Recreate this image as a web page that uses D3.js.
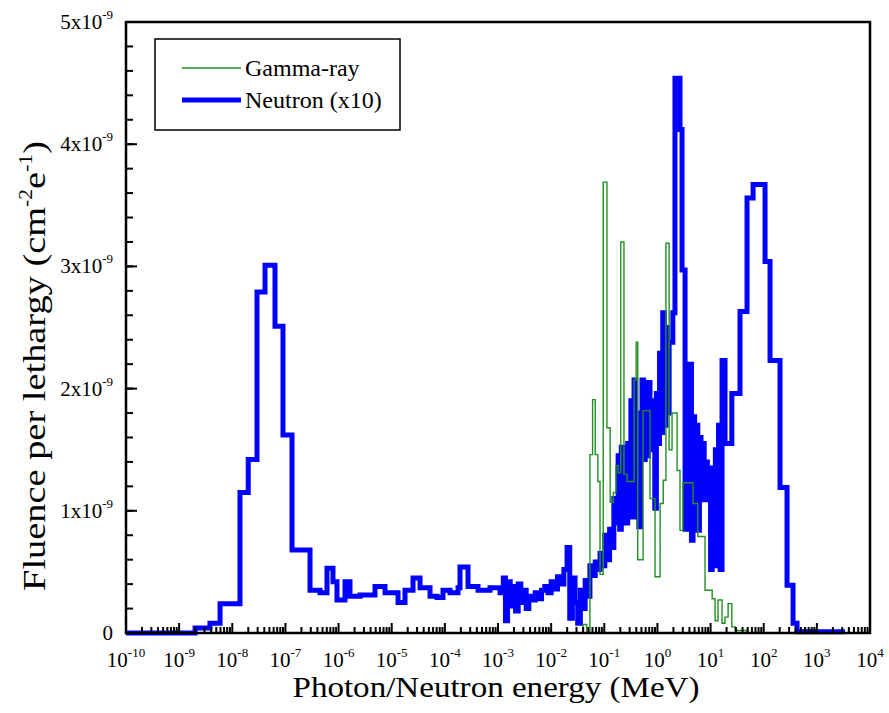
<!DOCTYPE html>
<html>
<head>
<meta charset="utf-8">
<title>Fluence per lethargy</title>
<script src="https://d3js.org/d3.v7.min.js"></script>
<style>
  body { margin: 0; background: #fff; }
  text { font-family: "Liberation Serif", "Times New Roman", serif; fill: #000; }
</style>
</head>
<body>
<svg id="chart" width="889" height="713"></svg>
<script>
// ---- data ----
// x tick exponents (MeV = 10^exp)
var xTickExp = [-10, -9, -8, -7, -6, -5, -4, -3, -2, -1, 0, 1, 2, 3, 4];
// y ticks, in units of 1e-9
var yTickVal = [0, 1, 2, 3, 4, 5];
var legendLabels = ["Gamma-ray", "Neutron (x10)"];

// [log10(E / MeV) of bin lower edge, fluence per lethargy in 1e-9]
var gammaBins = [
  [-1.98, 0], [-1.40, 0.07], [-1.33, 0], [-1.27, 1.46], [-1.22, 1.91],
  [-1.17, 1.46], [-1.12, 1.24], [-1.08, 0.48], [-1.02, 3.69], [-0.95, 1.68],
  [-0.89, 1.07], [-0.83, 1.15], [-0.78, 1.37], [-0.74, 1.31], [-0.69, 3.20],
  [-0.63, 1.30], [-0.57, 1.24], [-0.44, 2.07], [-0.40, 2.38], [-0.37, 0.60],
  [-0.27, 1.82], [-0.14, 1.10], [-0.045, 0.46], [0.05, 1.06], [0.11, 1.25],
  [0.16, 3.19], [0.22, 1.50], [0.275, 1.80], [0.37, 1.33], [0.425, 0.84],
  [0.48, 1.23], [0.67, 1.06], [0.76, 0.79], [0.896, 0.35], [1.03, 0.28],
  [1.085, 0.10], [1.14, 0.27], [1.216, 0.08], [1.27, 0.13], [1.33, 0.24],
  [1.40, 0.05], [1.46, 0.02], [1.69, 0], [2.63, 0]
];

// neutron fluence already multiplied by 10
var neutronBins = [
  [-10, 0], [-8.70, 0.04], [-8.42, 0.08], [-8.23, 0.24], [-7.855, 1.15],
  [-7.70, 1.42], [-7.535, 2.79], [-7.384, 3.01], [-7.196, 2.51], [-7.046, 1.62],
  [-6.876, 0.68], [-6.537, 0.35], [-6.349, 0.33], [-6.218, 0.53], [-6.105, 0.42],
  [-6.03, 0.27], [-5.879, 0.42], [-5.785, 0.30], [-5.597, 0.31], [-5.314, 0.38],
  [-5.126, 0.33], [-4.881, 0.25], [-4.75, 0.35], [-4.599, 0.45], [-4.467, 0.37],
  [-4.279, 0.30], [-4.147, 0.29], [-4.035, 0.35], [-3.903, 0.33], [-3.752, 0.37],
  [-3.715, 0.54], [-3.564, 0.38], [-3.376, 0.35], [-3.15, 0.37], [-2.962, 0.33],
  [-2.90, 0.45], [-2.86, 0.10], [-2.82, 0.42], [-2.77, 0.22], [-2.72, 0.38],
  [-2.67, 0.18], [-2.62, 0.40], [-2.57, 0.25], [-2.52, 0.35], [-2.47, 0.20],
  [-2.42, 0.30], [-2.36, 0.27], [-2.30, 0.33], [-2.24, 0.28], [-2.18, 0.35],
  [-2.12, 0.38], [-2.06, 0.33], [-2.00, 0.42], [-1.94, 0.36], [-1.88, 0.46],
  [-1.82, 0.40], [-1.76, 0.52], [-1.70, 0.70], [-1.65, 0.12], [-1.60, 0.45],
  [-1.55, 0.25], [-1.50, 0.08], [-1.45, 0.35], [-1.40, 0.20], [-1.36, 0.43],
  [-1.31, 0.30], [-1.27, 0.55], [-1.22, 0.47], [-1.17, 0.58], [-1.12, 0.52],
  [-1.08, 0.65], [-1.03, 0.55], [-0.99, 0.80], [-0.95, 0.60], [-0.90, 0.85],
  [-0.86, 0.70], [-0.82, 1.10], [-0.78, 0.90], [-0.74, 1.45], [-0.71, 0.85],
  [-0.68, 1.52], [-0.65, 0.95], [-0.62, 1.40], [-0.59, 0.90], [-0.56, 1.55],
  [-0.53, 1.00], [-0.50, 1.90], [-0.47, 0.95], [-0.44, 2.07], [-0.41, 1.20],
  [-0.38, 1.80], [-0.35, 0.87], [-0.32, 1.50], [-0.29, 2.07], [-0.26, 1.42],
  [-0.23, 2.00], [-0.20, 1.45], [-0.17, 2.05], [-0.14, 1.50], [-0.11, 1.90],
  [-0.08, 1.60], [-0.05, 1.02], [-0.02, 1.96], [0.01, 1.55], [0.04, 2.29],
  [0.07, 1.64], [0.10, 2.62], [0.13, 1.70], [0.16, 2.50], [0.19, 1.80],
  [0.22, 2.38], [0.29, 2.62], [0.33, 4.54], [0.425, 4.12], [0.463, 2.97],
  [0.52, 0.85], [0.55, 1.93], [0.58, 1.20], [0.61, 2.20], [0.64, 0.76],
  [0.67, 1.77], [0.70, 0.90], [0.73, 1.70], [0.76, 0.84], [0.79, 1.60],
  [0.82, 1.10], [0.85, 1.55], [0.88, 1.09], [0.91, 1.40], [0.94, 1.23],
  [0.97, 1.35], [1.00, 0.52], [1.03, 1.20], [1.06, 0.60], [1.09, 1.50],
  [1.12, 0.55], [1.15, 1.70], [1.18, 0.52], [1.216, 2.23], [1.272, 1.55],
  [1.40, 1.96], [1.554, 2.63], [1.686, 3.56], [1.80, 3.67], [2.025, 3.04],
  [2.119, 2.23], [2.307, 1.19], [2.439, 0.39], [2.552, 0.08], [2.627, 0.01],
  [3.53, 0.01]
];

// ---- layout ----
var width = 889, height = 713;
var margin = {top: 22, right: 19, bottom: 80, left: 126};

var x = d3.scaleLog()
  .domain([1e-10, 1e4])
  .range([margin.left, width - margin.right]);
var y = d3.scaleLinear()
  .domain([0, 5e-9])
  .range([height - margin.bottom, margin.top]);

var svg = d3.select("#chart");

var line = d3.line()
  .curve(d3.curveStepAfter)
  .x(function (d) { return x(Math.pow(10, d[0])); })
  .y(function (d) { return y(d[1] * 1e-9); });

svg.append("path")
  .datum(neutronBins)
  .attr("fill", "none")
  .attr("stroke", "#0000ff")
  .attr("stroke-width", 5)
  .attr("d", line);

svg.append("path")
  .datum(gammaBins)
  .attr("fill", "none")
  .attr("stroke", "#229022")
  .attr("stroke-width", 1.4)
  .attr("d", line);

// ---- axes ----
var x0 = margin.left, x1 = width - margin.right;
var y0 = height - margin.bottom, y1 = margin.top;

// minor x ticks: 2..9 in each decade
var xMinor = [];
xTickExp.slice(0, -1).forEach(function (e) {
  for (var m = 2; m < 10; m++) xMinor.push(m * Math.pow(10, e));
});

var xAxis = svg.append("g")
  .attr("transform", "translate(0," + y0 + ")");
xAxis.selectAll("line.minor")
  .data(xMinor)
  .enter().append("line")
  .attr("x1", function (d) { return x(d); })
  .attr("x2", function (d) { return x(d); })
  .attr("y1", 0).attr("y2", -6)
  .attr("stroke", "#000").attr("stroke-width", 2);
xAxis.selectAll("line.major")
  .data(xTickExp)
  .enter().append("line")
  .attr("x1", function (d) { return x(Math.pow(10, d)); })
  .attr("x2", function (d) { return x(Math.pow(10, d)); })
  .attr("y1", 0).attr("y2", -10)
  .attr("stroke", "#000").attr("stroke-width", 2);

var xLab = xAxis.selectAll("text.tick")
  .data(xTickExp)
  .enter().append("text")
  .attr("x", function (d) { return x(Math.pow(10, d)); })
  .attr("y", 34)
  .attr("text-anchor", "middle")
  .style("font-size", "21px");
xLab.append("tspan").text("10");
xLab.append("tspan")
  .attr("dy", -10)
  .style("font-size", "13px")
  .text(function (d) { return d; });

var yMinor = d3.range(0, 5.001, 0.2);
var yAxis = svg.append("g");
yAxis.selectAll("line.minor")
  .data(yMinor)
  .enter().append("line")
  .attr("x1", x0).attr("x2", x0 + 7)
  .attr("y1", function (d) { return y(d * 1e-9); })
  .attr("y2", function (d) { return y(d * 1e-9); })
  .attr("stroke", "#000").attr("stroke-width", 2);
yAxis.selectAll("line.major")
  .data(yTickVal)
  .enter().append("line")
  .attr("x1", x0).attr("x2", x0 + 11)
  .attr("y1", function (d) { return y(d * 1e-9); })
  .attr("y2", function (d) { return y(d * 1e-9); })
  .attr("stroke", "#000").attr("stroke-width", 2);

var yLab = yAxis.selectAll("text.tick")
  .data(yTickVal)
  .enter().append("text")
  .attr("x", x0 - 13)
  .attr("y", function (d) { return y(d * 1e-9) + 7; })
  .attr("text-anchor", "end")
  .style("font-size", "21px");
yLab.append("tspan").text(function (d) { return d === 0 ? "0" : d + "x10"; });
yLab.filter(function (d) { return d !== 0; })
  .append("tspan")
  .attr("dy", -10)
  .style("font-size", "13px")
  .text("-9");

// frame
svg.append("rect")
  .attr("x", x0).attr("y", y1)
  .attr("width", x1 - x0).attr("height", y0 - y1)
  .attr("fill", "none")
  .attr("stroke", "#000")
  .attr("stroke-width", 2.5);

// axis titles
svg.append("text")
  .attr("x", 496).attr("y", 697)
  .attr("text-anchor", "middle")
  .attr("textLength", 407)
  .attr("lengthAdjust", "spacingAndGlyphs")
  .style("font-size", "30px")
  .text("Photon/Neutron energy (MeV)");

var yt = svg.append("text")
  .attr("text-anchor", "middle")
  .style("font-size", "32px");
yt.append("tspan").text("Fluence per lethargy (cm");
yt.append("tspan").attr("dy", -13).style("font-size", "18px").text("-2");
yt.append("tspan").attr("dy", 13).text("e");
yt.append("tspan").attr("dy", -13).style("font-size", "18px").text("-1");
yt.append("tspan").attr("dy", 13).text(")");
// stretch the title along its length to fill the same span as the original
var ytLen = yt.node().getComputedTextLength();
yt.attr("transform", "translate(45,366) rotate(-90) scale(" + (450 / ytLen) + ",1)");

// ---- legend ----
var legend = svg.append("g");
legend.append("rect")
  .attr("x", 155).attr("y", 39)
  .attr("width", 245).attr("height", 91)
  .attr("fill", "#fff")
  .attr("stroke", "#000")
  .attr("stroke-width", 1.5);

var legendStyle = [
  {color: "#229022", w: 1.4},
  {color: "#0000ff", w: 5}
];
legendLabels.forEach(function (label, i) {
  var ly = 68 + i * 32;
  legend.append("line")
    .attr("x1", 182).attr("x2", 241)
    .attr("y1", ly).attr("y2", ly)
    .attr("stroke", legendStyle[i].color)
    .attr("stroke-width", legendStyle[i].w);
  legend.append("text")
    .attr("x", 245).attr("y", ly + 8)
    .style("font-size", "24px")
    .text(label);
});
</script>
</body>
</html>
